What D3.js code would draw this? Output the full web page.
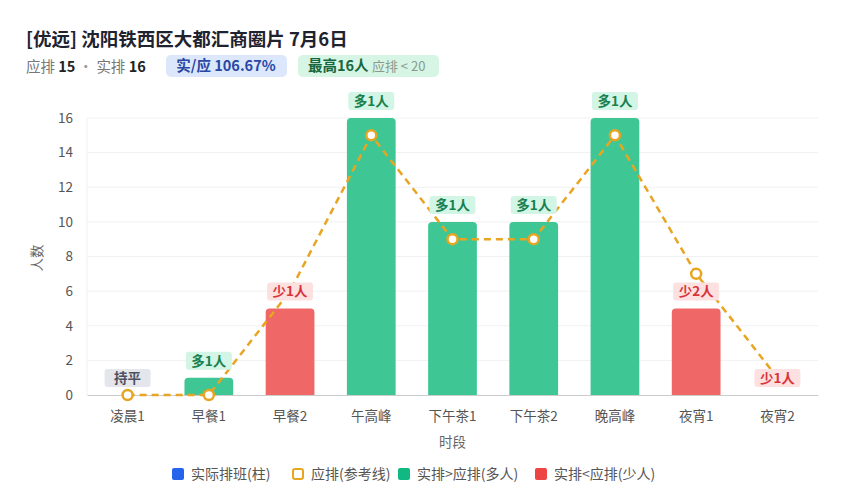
<!DOCTYPE html>
<html>
<head>
<meta charset="utf-8">
<script src="https://cdn.jsdelivr.net/npm/d3@7"></script>
<style>
  body { margin: 0; background: #fff; font-family: "Noto Sans CJK SC", "Noto Sans", sans-serif; }
</style>
</head>
<body>
<svg id="chart" width="850" height="500"></svg>
<script>
const categories = ['凌晨1', '早餐1', '早餐2', '午高峰', '下午茶1', '下午茶2', '晚高峰', '夜宵1', '夜宵2']
const actual = [0, 1, 5, 16, 10, 10, 16, 5, 0]
const planned = [0, 0, 6, 15, 9, 9, 15, 7, 1]
const yTicks = [0, 2, 4, 6, 8, 10, 12, 14, 16]
const legendItems = ['实际排班(柱)', '应排(参考线)', '实排>应排(多人)', '实排<应排(少人)']

const colors = {
    more: '#3ec795',
    less: '#ef6767',
    line: '#e8a521',
    blue: '#2563eb',
    legendGreen: '#10b981',
    legendRed: '#ef4444'
}

const svg = d3.select('#chart')
const font = '"Noto Sans CJK SC", "Noto Sans", sans-serif'

// header
svg.append('text')
    .attr('x', 26).attr('y', 46)
    .attr('font-size', 18.5).attr('font-weight', 700).attr('fill', '#1f2330')
    .text('[优远] 沈阳铁西区大都汇商圈片 7月6日')

const sub = svg.append('text').attr('x', 26).attr('y', 72).attr('font-size', 14.5)
sub.append('tspan').attr('fill', '#777').text('应排 ')
sub.append('tspan').attr('fill', '#222').attr('font-weight', 700).text('15')
sub.append('tspan').attr('fill', '#999').text(' · ')
sub.append('tspan').attr('fill', '#777').text('实排 ')
sub.append('tspan').attr('fill', '#222').attr('font-weight', 700).text('16')

svg.append('rect').attr('x', 166).attr('y', 55).attr('width', 121).attr('height', 22).attr('rx', 5).attr('fill', '#dce7fb')
svg.append('text').attr('x', 226).attr('y', 71).attr('text-anchor', 'middle')
    .attr('font-size', 14.5).attr('font-weight', 700).attr('fill', '#2a47a5').text('实/应 106.67%')

svg.append('rect').attr('x', 298).attr('y', 55).attr('width', 141).attr('height', 22).attr('rx', 5).attr('fill', '#d6f5e5')
const badge = svg.append('text').attr('x', 308).attr('y', 71).attr('font-size', 14.5)
badge.append('tspan').attr('font-weight', 700).attr('fill', '#17683f').text('最高16人 ')
badge.append('tspan').attr('font-size', 13).attr('fill', '#8a9a90').text('应排 < 20')

// plot
const margin = { left: 87, right: 32, top: 118, bottom: 105 }
const width = 850 - margin.left - margin.right
const height = 500 - margin.top - margin.bottom

const g = svg.append('g').attr('transform', `translate(${margin.left},${margin.top})`)

const x = d3.scaleBand().domain(categories).range([0, width]).paddingInner(0.4).paddingOuter(0.2)
const y = d3.scaleLinear().domain([0, 16]).range([height, 0])

// grid
g.append('g').selectAll('line').data(yTicks.slice(1)).enter().append('line')
    .attr('x1', 0).attr('x2', width)
    .attr('y1', d => y(d)).attr('y2', d => y(d))
    .attr('stroke', '#f0f1f3').attr('stroke-width', 1)
g.append('line').attr('x1', 0).attr('x2', 0).attr('y1', 0).attr('y2', height)
    .attr('stroke', '#f0f1f3')

const yAxis = g.append('g').call(d3.axisLeft(y).tickValues(yTicks).tickSize(0).tickPadding(14))
yAxis.select('.domain').remove()
yAxis.selectAll('text').attr('font-size', 13.5).attr('fill', '#555').attr('font-family', font)

const xAxis = g.append('g').attr('transform', `translate(0,${height})`)
    .call(d3.axisBottom(x).tickSize(0).tickPadding(16))
xAxis.select('.domain').attr('stroke', '#ccc')
xAxis.selectAll('text').attr('font-size', 13.5).attr('fill', '#555').attr('font-family', font)

svg.append('text').attr('transform', 'translate(42,258) rotate(-90)')
    .attr('text-anchor', 'middle').attr('font-size', 13.5).attr('fill', '#666').text('人数')
svg.append('text').attr('x', margin.left + width / 2).attr('y', 447)
    .attr('text-anchor', 'middle').attr('font-size', 13.5).attr('fill', '#666').text('时段')

// bars
const rows = categories.map((c, i) => ({ c, a: actual[i], p: planned[i], d: actual[i] - planned[i] }))

const barPath = d => {
    const x0 = x(d.c), w = x.bandwidth(), y0 = y(d.a), h = height - y0
    const r = Math.min(4, h)
    if (h <= 0) return ''
    return `M${x0},${height}V${y0 + r}Q${x0},${y0} ${x0 + r},${y0}H${x0 + w - r}Q${x0 + w},${y0} ${x0 + w},${y0 + r}V${height}Z`
}
g.append('g').selectAll('path').data(rows).enter().append('path')
    .attr('d', barPath)
    .attr('fill', d => d.d >= 0 ? colors.more : colors.less)

// reference line
const cx = d => x(d.c) + x.bandwidth() / 2
const line = d3.line().x(cx).y(d => y(d.p))
g.append('path').datum(rows).attr('d', line)
    .attr('fill', 'none').attr('stroke', colors.line).attr('stroke-width', 2.5)
    .attr('stroke-dasharray', '7,5')
g.append('g').selectAll('circle').data(rows).enter().append('circle')
    .attr('cx', cx).attr('cy', d => y(d.p)).attr('r', 5)
    .attr('fill', '#fff').attr('stroke', colors.line).attr('stroke-width', 2.5)

// diff labels
const labelText = d => d.d === 0 ? '持平' : (d.d > 0 ? `多${d.d}人` : `少${-d.d}人`)
const labelBg = d => d.d === 0 ? '#e4e6eb' : (d.d > 0 ? '#d3f5e6' : '#fde1e1')
const labelFg = d => d.d === 0 ? '#4b5060' : (d.d > 0 ? '#17804f' : '#d8343a')
const labels = g.append('g').selectAll('g').data(rows).enter().append('g')
    .attr('transform', d => `translate(${cx(d)},${y(d.a) - 17})`)
labels.append('rect').attr('x', -23).attr('y', -9).attr('width', 46).attr('height', 18).attr('rx', 3)
    .attr('fill', labelBg)
labels.append('text').attr('text-anchor', 'middle').attr('dy', '0.36em')
    .attr('font-size', 13.5).attr('font-weight', 700).attr('fill', labelFg)
    .text(labelText)

// legend
const legendX = [172, 292, 398, 535]
const legend = svg.append('g').selectAll('g').data(legendItems).enter().append('g')
    .attr('transform', (d, i) => `translate(${legendX[i]},468)`)
legend.append('rect')
    .attr('x', (d, i) => i === 1 ? 1 : 0).attr('y', (d, i) => i === 1 ? 1 : 0)
    .attr('width', (d, i) => i === 1 ? 10 : 12).attr('height', (d, i) => i === 1 ? 10 : 12).attr('rx', 2)
    .attr('fill', (d, i) => [colors.blue, '#fff', colors.legendGreen, colors.legendRed][i])
    .attr('stroke', (d, i) => i === 1 ? colors.line : 'none').attr('stroke-width', 2)
legend.append('text').attr('x', 19).attr('y', 11).attr('font-size', 14).attr('fill', '#555')
    .text(d => d)
</script>
</body>
</html>
